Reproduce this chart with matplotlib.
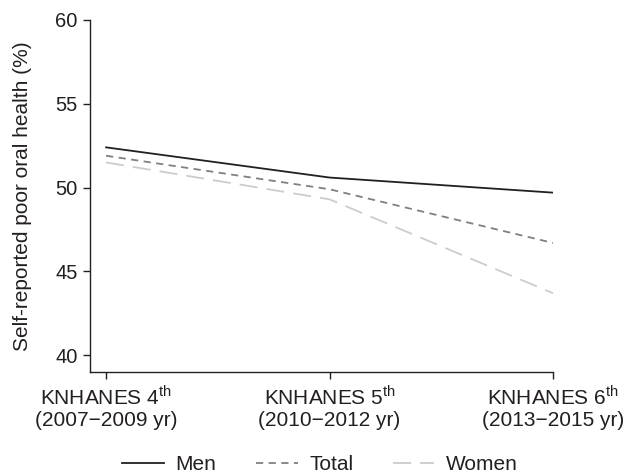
import numpy as np
import matplotlib
matplotlib.use("Agg")
import matplotlib.pyplot as plt

plt.rcParams['font.family'] = ['Liberation Sans', 'DejaVu Sans']
plt.rcParams['mathtext.fontset'] = 'custom'
plt.rcParams['mathtext.rm'] = 'Liberation Sans'

# data
waves = ["KNHANES 4$^{\\mathrm{th}}$\n(2007\u22122009 yr)",
         "KNHANES 5$^{\\mathrm{th}}$\n(2010\u22122012 yr)",
         "KNHANES 6$^{\\mathrm{th}}$\n(2013\u22122015 yr)"]
men = [52.4, 50.6, 49.7]
total = [51.9, 49.9, 46.7]
women = [51.5, 49.3, 43.7]

ink = '#231f20'
fig = plt.figure(figsize=(6.25, 4.74), dpi=100)
ax = fig.add_axes([0.144, 0.215, 0.741, 0.743])

x = np.arange(len(waves))
ax.plot(x, men, color=ink, lw=1.3, label='Men')
ax.plot(x, total, color='#808080', lw=1.3, dashes=(4, 3), label='Total')
ax.plot(x, women, color='#cccccc', lw=1.3, dashes=(10, 5), label='Women')

ax.set_xlim(-0.072, 2.0)
ax.set_ylim(39, 60)
ax.set_yticks([40, 45, 50, 55, 60])
ax.set_xticks(x)
ax.set_xticklabels(waves)
for s in ['top', 'right']:
    ax.spines[s].set_visible(False)
for s in ['left', 'bottom']:
    ax.spines[s].set_color(ink)
    ax.spines[s].set_linewidth(1.0)
ax.tick_params(colors=ink, length=5, width=1.0)
ax.tick_params(axis='y', labelsize=14.5, pad=4)
ax.tick_params(axis='x', labelsize=15, pad=4)
ax.set_ylabel('Self-reported poor oral health (%)', fontsize=15, color=ink, labelpad=17)

h, l = ax.get_legend_handles_labels()
fig.legend(h, l, loc='center', bbox_to_anchor=(0.512, 0.02), ncol=3, frameon=False,
           fontsize=15, handlelength=2.0, columnspacing=1.9, handletextpad=0.55,
           labelcolor=ink)

fig.savefig('out.png', dpi=100)
